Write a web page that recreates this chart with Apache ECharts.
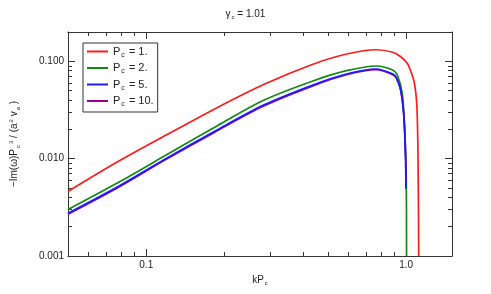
<!DOCTYPE html>
<html>
<head>
<meta charset="utf-8">
<script src="https://cdn.jsdelivr.net/npm/echarts@6/dist/echarts.min.js"></script>
<style>html,body{margin:0;padding:0;background:#fff}#c{width:491px;height:294px}</style>
</head>
<body>
<div id="c"></div>
<script>
// ---- data ----
const k1 = [0.05, 0.0764, 0.1184, 0.1834, 0.2841, 0.4402, 0.5893, 0.7663, 0.887, 0.95, 1.009, 1.038, 1.069, 1.088, 1.1, 1.108, 1.113, 1.117];
const g1 = [0.0046, 0.00906, 0.01726, 0.0324, 0.0580, 0.0938, 0.1188, 0.1315, 0.124, 0.112, 0.0954, 0.081, 0.064, 0.048, 0.033, 0.015, 0.005, 0.001];

const k2 = [0.05, 0.0764, 0.1184, 0.1834, 0.2841, 0.4402, 0.5893, 0.7663, 0.887, 0.924, 0.965, 0.985, 1.0, 1.003];
const g2 = [0.00300, 0.00551, 0.01076, 0.02104, 0.0400, 0.0632, 0.0801, 0.0895, 0.0814, 0.0720, 0.047, 0.0213, 0.0066, 0.001];

const k5 = [0.05, 0.0764, 0.1184, 0.1834, 0.2841, 0.4402, 0.5893, 0.7663, 0.887, 0.915, 0.951, 0.979, 0.994, 0.997];
const g5 = [0.00275, 0.00502, 0.00995, 0.01914, 0.0357, 0.0575, 0.0741, 0.0834, 0.0741, 0.068, 0.0508, 0.027, 0.0097, 0.0049];

const k10 = [0.05, 0.0764, 0.1184, 0.1834, 0.2841, 0.4402, 0.5893, 0.7663, 0.887, 0.917, 0.953, 0.981, 0.996, 0.999];
const g10 = [0.00268, 0.00490, 0.00972, 0.01870, 0.0349, 0.0563, 0.0727, 0.0820, 0.0730, 0.0672, 0.0502, 0.0268, 0.0098, 0.0058];

const pcLabels = ['1.', '2.', '5.', '10.'];
const colors = ['#ff1a1a', '#118811', '#1a1aff', '#990099'];

const xMajor = [0.1, 1];
const xMinor = [0.05, 0.06, 0.07, 0.08, 0.09, 0.2, 0.3, 0.4, 0.5, 0.6, 0.7, 0.8, 0.9];
const yMajor = [0.001, 0.01, 0.1];
const yMinor = [0.002, 0.003, 0.004, 0.005, 0.006, 0.007, 0.008, 0.009, 0.02, 0.03, 0.04, 0.05, 0.06, 0.07, 0.08, 0.09, 0.2];

const X_MIN = 0.05, X_MAX = 1.5, Y_MIN = 0.001, Y_MAX = 0.2;

// ---- build ----
const pair = (ks, gs) => ks.map((k, i) => [k, gs[i]]);
const FONT = 'Liberation Sans';
const axisColor = '#333';

function xAx(pos, major, showLabel, showLine) {
  return {
    type: 'log', min: X_MIN, max: X_MAX, position: pos,
    axisLine: { show: showLine, onZero: false, lineStyle: { color: axisColor, width: 1 } },
    axisTick: { show: true, inside: true, length: major ? 7 : 4, customValues: major ? xMajor : xMinor, lineStyle: { color: axisColor } },
    axisLabel: { show: showLabel, customValues: xMajor, formatter: v => Number(v).toFixed(1), color: '#222', fontSize: 10, fontFamily: FONT, margin: 4 },
    splitLine: { show: false }, minorTick: { show: false }
  };
}
function yAx(pos, major, showLabel, showLine) {
  return {
    type: 'log', min: Y_MIN, max: Y_MAX, position: pos,
    axisLine: { show: showLine, onZero: false, lineStyle: { color: axisColor, width: 1 } },
    axisTick: { show: true, inside: true, length: major ? 7 : 4, customValues: major ? yMajor : yMinor, lineStyle: { color: axisColor } },
    axisLabel: { show: showLabel, customValues: yMajor, formatter: v => Number(v).toFixed(3), color: '#222', fontSize: 10, fontFamily: FONT, margin: 4 },
    splitLine: { show: false }, minorTick: { show: false }
  };
}

const xAxes = [xAx('bottom', true, true, true), xAx('bottom', false, false, false), xAx('top', true, false, true), xAx('top', false, false, false)];
xAxes[0].name = '{t|kP}{s|c}';
xAxes[0].nameLocation = 'middle';
xAxes[0].nameGap = 12;
xAxes[0].nameTextStyle = { rich: { t: { fontSize: 10, fontFamily: FONT, color: '#222' }, s: { fontSize: 6, fontFamily: FONT, color: '#222', padding: [7, 0, 0, 1] } } };

const yAxes = [yAx('left', true, true, true), yAx('left', false, false, false), yAx('right', true, false, true), yAx('right', false, false, false)];
yAxes[0].name = '{t|−Im(ω)P}{s|c}{u|3}{t| / (a}{u|2}{t| v}{s|a}{t| )}';
yAxes[0].nameLocation = 'middle';
yAxes[0].nameGap = 47;
yAxes[0].nameRotate = 90;
yAxes[0].nameTextStyle = { rich: {
  t: { fontSize: 10, fontFamily: FONT, color: '#222' },
  s: { fontSize: 6, fontFamily: FONT, color: '#222', padding: [7, 0, 0, 1] },
  u: { fontSize: 6, fontFamily: FONT, color: '#222', padding: [0, 0, 7, 1] }
} };

const sets = [[k1, g1], [k2, g2], [k5, g5], [k10, g10]];
const names = pcLabels.map(p => 'P' + '\u2009c = ' + p);
// draw purple below blue
const order = [0, 1, 3, 2];
const series = order.map(i => ({
  name: names[i], type: 'line', data: pair(sets[i][0], sets[i][1]),
  xAxisIndex: 0, yAxisIndex: 0, showSymbol: false, symbol: 'none',
  smooth: 0.3,
  lineStyle: { color: colors[i], width: 1.7 }, itemStyle: { color: colors[i] },
  z: 2 + order.indexOf(i)
}));

const chart = echarts.init(document.getElementById('c'), null, { renderer: 'canvas' });
chart.setOption({
  animation: false,
  backgroundColor: '#fff',
  title: {
    text: '{t|γ}{s|c}{t| = 1.01}', left: 'center', top: 3,
    textStyle: { fontWeight: 'normal', rich: { t: { fontSize: 10, fontWeight: 'normal', fontFamily: FONT, color: '#222' }, s: { fontSize: 6, fontWeight: 'normal', fontFamily: FONT, color: '#222', padding: [6, 0, 0, 1] } } }
  },
  grid: { left: 63, right: 39, top: 32, bottom: 38, containLabel: false },
  legend: {
    data: names, orient: 'vertical', left: 83, top: 43,
    borderColor: '#333', borderWidth: 1, padding: [3, 4, 4, 4],
    icon: 'rect', itemWidth: 21, itemHeight: 2, itemGap: 4,
    formatter: n => { const i = names.indexOf(n); return '{t|P}{s|c}{t| = ' + pcLabels[i] + '}'; },
    textStyle: { rich: { t: { fontSize: 11, fontFamily: FONT, color: '#222' }, s: { fontSize: 7, fontFamily: FONT, color: '#222', padding: [7, 1, 0, 1] } } }
  },
  xAxis: xAxes,
  yAxis: yAxes,
  series: series
});
</script>
</body>
</html>
